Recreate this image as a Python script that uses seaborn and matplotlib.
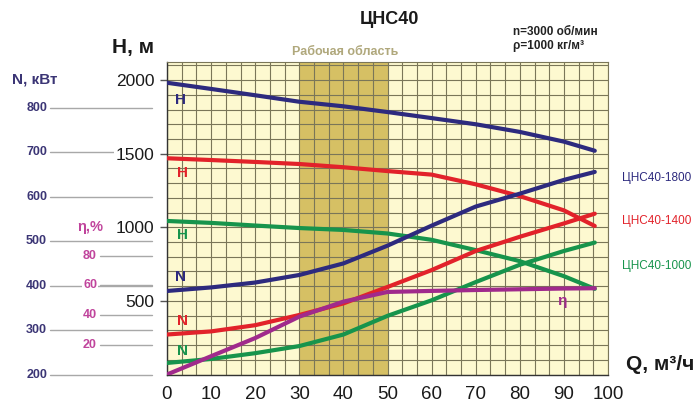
import numpy as np
import seaborn as sns
import matplotlib.pyplot as plt
from matplotlib.ticker import MultipleLocator
from matplotlib.transforms import blended_transform_factory

q = [0, 10, 20, 30, 40, 50, 60, 70, 80, 90, 97]
h_1800 = [1982, 1940, 1897, 1853, 1822, 1783, 1742, 1700, 1648, 1582, 1520]
h_1400 = [1469, 1457, 1444, 1430, 1408, 1382, 1358, 1292, 1212, 1115, 1009]
h_1000 = [1043, 1030, 1012, 995, 982, 958, 915, 845, 770, 668, 582]
n_1800 = [388, 396, 407, 424, 450, 490, 535, 578, 607, 638, 656]
n_1400 = [290, 297, 311, 334, 360, 397, 435, 478, 510, 540, 562]
n_1000 = [226, 235, 248, 264, 290, 332, 367, 408, 447, 478, 497]
eta = [0, 12.3, 24.5, 38.9, 49, 55.5, 56.2, 56.8, 57.3, 57.8, 58]

q_ticks = list(range(0, 101, 10))
h_ticks = [500, 1000, 1500, 2000]
n_ticks = [200, 300, 400, 500, 600, 700, 800]
eta_ticks = [20, 40, 60, 80]
work_zone = (30, 50)

BLUE = '#2d2a7e'
RED = '#e2222a'
GREEN = '#17944c'
PURPLE = '#a02a8c'
PINK = '#c0449c'
GRID = '#7a7658'

sns.set_style('white')
plt.rcParams['font.family'] = ['Liberation Sans', 'DejaVu Sans']

W, H = 700, 403
fig = plt.figure(figsize=(W / 100, H / 100), dpi=100)


def px(x, y):
    return x / W, 1 - y / H


ax = fig.add_axes([167 / W, 1 - 374.5 / H, 441 / W, 312.5 / H])
ax.set_facecolor('#fdf9d0')
ax.set_xlim(0, 100)
ax.set_ylim(0, 2123)
ax.axvspan(*work_zone, color='#d6c064', lw=0, zorder=1)

ax.xaxis.set_major_locator(MultipleLocator(10))
ax.xaxis.set_minor_locator(MultipleLocator(10 / 3))
ax.yaxis.set_minor_locator(MultipleLocator(100))
ax.set_xticks(q_ticks)
ax.set_yticks(h_ticks)
ax.set_axisbelow('line')
ax.grid(which='both', color=GRID, lw=0.8)
ax.tick_params(which='minor', length=0)
ax.tick_params(axis='x', length=6, width=1, color='#333333', pad=2,
               labelsize=13.5, labelcolor='#1a1a1a')
ax.tick_params(axis='y', length=5, width=1, color='#555555', pad=4,
               labelsize=12.5, labelcolor='#1a1a1a')
for s in ['top', 'right']:
    ax.spines[s].set_color(GRID)
    ax.spines[s].set_linewidth(0.8)
for s in ['left', 'bottom']:
    ax.spines[s].set_color('#333333')
    ax.spines[s].set_linewidth(1)

for lab in ax.get_yticklabels():
    lab.set_bbox(dict(facecolor='white', edgecolor='none', pad=1))

ax_n = ax.twinx()
ax_n.set_ylim(200, 903.4)
ax_e = ax.twinx()
ax_e.set_ylim(0, 210.1)
for a in (ax_n, ax_e):
    a.set_axis_off()

# Кривые напора
for vals, col in [(h_1800, BLUE), (h_1400, RED), (h_1000, GREEN)]:
    sns.lineplot(x=q, y=vals, ax=ax, color=col, lw=3, zorder=3)
# Кривые мощности
for vals, col in [(n_1800, BLUE), (n_1400, RED), (n_1000, GREEN)]:
    sns.lineplot(x=q, y=vals, ax=ax_n, color=col, lw=3)
# КПД
sns.lineplot(x=q, y=eta, ax=ax_e, color=PURPLE, lw=3)
ax.set_xlabel('')
ax.set_ylabel('')

# Левые шкалы N и η
tr_n = blended_transform_factory(ax.transAxes, ax_n.transData)
tr_e = blended_transform_factory(ax.transAxes, ax_e.transData)
for v in n_ticks:
    ax.plot([-0.2653, -0.034], [v, v], transform=tr_n, color='#a8a8a8',
            lw=1, clip_on=False, zorder=0.8)
    ax.text(-0.272, v, str(v), transform=tr_n, ha='right', va='center',
            fontsize=9, fontweight='bold', color='#3b3575', zorder=3)
for v in eta_ticks:
    ax.plot([-0.152, -0.034], [v, v], transform=tr_e, color='#a8a8a8',
            lw=1, clip_on=False, zorder=0.8)
    ax.text(-0.1746, v, str(v), transform=tr_e, ha='center', va='center',
            fontsize=9, fontweight='bold', color=PINK, zorder=3,
            bbox=dict(facecolor='white', edgecolor='none', pad=1))

# Подписи
fig.text(*px(389, 20), 'ЦНС40', ha='center', va='center', fontsize=13,
         fontweight='bold', color='#1a1a1a')
fig.text(*px(133, 47), 'H, м', ha='center', va='center', fontsize=15,
         fontweight='bold', color='#1a1a1a')
fig.text(*px(35, 79), 'N, кВт', ha='center', va='center', fontsize=11,
         fontweight='bold', color='#3b3575')
fig.text(*px(90, 227), 'η,%', ha='center', va='center', fontsize=10.5,
         fontweight='bold', color=PINK,
         bbox=dict(facecolor='white', edgecolor='none', pad=1))
fig.text(*px(345, 52), 'Рабочая область', ha='center', va='center',
         fontsize=9, fontweight='bold', color='#b0a87c')
fig.text(*px(513, 32), 'n=3000 об/мин', ha='left', va='center',
         fontsize=8.5, fontweight='bold', color='#222222')
fig.text(*px(513, 46), 'ρ=1000 кг/м³', ha='left', va='center',
         fontsize=8.5, fontweight='bold', color='#222222')
fig.text(*px(622, 178), 'ЦНС40-1800', ha='left', va='center',
         fontsize=8.5, color=BLUE)
fig.text(*px(622, 221), 'ЦНС40-1400', ha='left', va='center',
         fontsize=8.5, color=RED)
fig.text(*px(622, 266), 'ЦНС40-1000', ha='left', va='center',
         fontsize=8.5, color=GREEN)
fig.text(*px(660, 365), 'Q, м³/ч', ha='center', va='center', fontsize=15,
         fontweight='bold', color='#1a1a1a')

for (x, y), txt, col in [((181, 100), 'H', BLUE), ((182, 173), 'H', RED),
                         ((182, 235), 'H', GREEN), ((181, 277), 'N', BLUE),
                         ((182, 321), 'N', RED), ((182, 351), 'N', GREEN),
                         ((562, 301), 'η', PURPLE)]:
    fig.text(*px(x, y), txt, ha='center', va='center', fontsize=11,
             fontweight='bold', color=col)

fig.savefig('out.png', dpi=100)
